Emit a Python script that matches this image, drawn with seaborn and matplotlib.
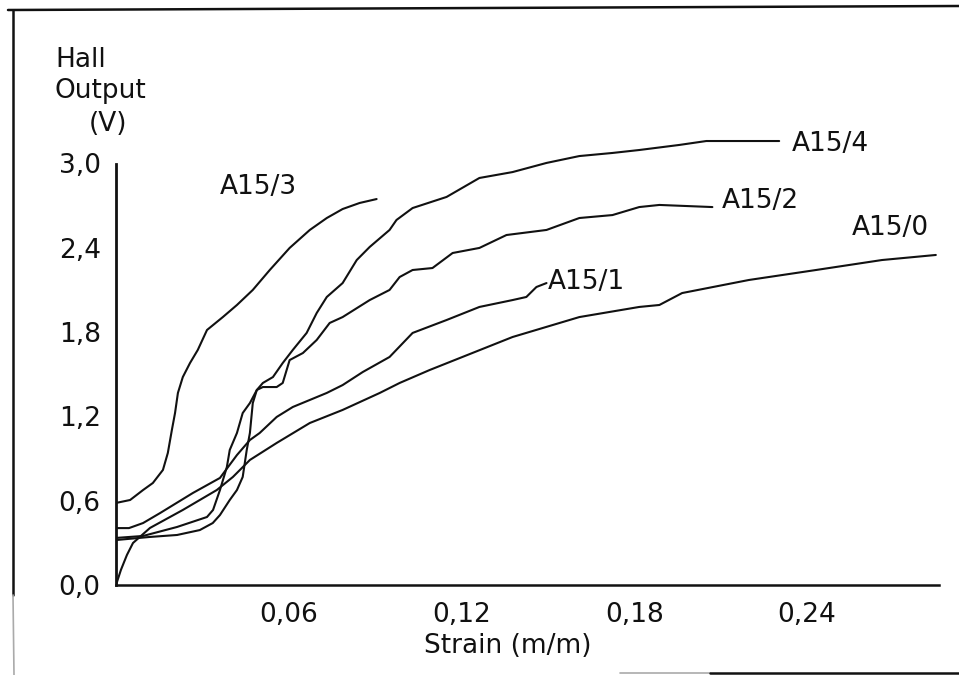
import matplotlib
matplotlib.use("Agg")
import matplotlib.pyplot as plt
from matplotlib.lines import Line2D
import seaborn as sns
import pandas as pd

# Hall sensor output versus strain for the A15 specimen series
a15_0_strain = [0.0, 0.0017, 0.0038, 0.0059, 0.0118, 0.0232, 0.0350, 0.0406, 0.0465, 0.0558,
                0.0673, 0.0787, 0.0916, 0.0985, 0.1089, 0.1203, 0.1377, 0.1609, 0.1817, 0.1887,
                0.1966, 0.2198, 0.2431, 0.2660, 0.2847]
a15_0_output = [0.0, 0.107, 0.214, 0.299, 0.406, 0.534, 0.676, 0.769, 0.890, 1.011,
                1.153, 1.246, 1.367, 1.438, 1.530, 1.623, 1.765, 1.907, 1.979, 1.993,
                2.078, 2.171, 2.242, 2.313, 2.349]

a15_1_strain = [0.0, 0.0045, 0.0094, 0.0153, 0.0267, 0.0361, 0.0420, 0.0465, 0.0499, 0.0558,
                0.0614, 0.0673, 0.0732, 0.0787, 0.0857, 0.0950, 0.1030, 0.1148, 0.1262, 0.1377,
                0.1425, 0.1460, 0.1495]
a15_1_output = [0.405, 0.405, 0.441, 0.512, 0.655, 0.762, 0.925, 1.032, 1.082, 1.196,
                1.267, 1.317, 1.367, 1.423, 1.516, 1.623, 1.794, 1.886, 1.979, 2.028,
                2.050, 2.121, 2.149]

a15_2_strain = [0.0, 0.0118, 0.0212, 0.0291, 0.0336, 0.0361, 0.0395, 0.0420, 0.0440, 0.0454,
                0.0465, 0.0475, 0.0489, 0.0510, 0.0558, 0.0579, 0.0603, 0.0649, 0.0697, 0.0742,
                0.0787, 0.0881, 0.0950, 0.0985, 0.1030, 0.1099, 0.1169, 0.1262, 0.1356, 0.1495,
                0.1609, 0.1724, 0.1817, 0.1887, 0.2071]
a15_2_output = [0.320, 0.342, 0.356, 0.391, 0.441, 0.498, 0.605, 0.676, 0.769, 0.961,
                1.082, 1.295, 1.388, 1.409, 1.409, 1.438, 1.601, 1.651, 1.744, 1.865,
                1.907, 2.028, 2.100, 2.192, 2.242, 2.256, 2.363, 2.399, 2.491, 2.527,
                2.612, 2.633, 2.690, 2.705, 2.690]

a15_3_strain = [0.0, 0.0049, 0.0094, 0.0128, 0.0163, 0.0180, 0.0194, 0.0205, 0.0215, 0.0232,
                0.0257, 0.0284, 0.0316, 0.0371, 0.0420, 0.0475, 0.0534, 0.0603, 0.0673, 0.0732,
                0.0787, 0.0846, 0.0905]
a15_3_output = [0.584, 0.605, 0.676, 0.726, 0.819, 0.940, 1.103, 1.224, 1.367, 1.480,
                1.580, 1.673, 1.815, 1.907, 1.993, 2.100, 2.242, 2.399, 2.527, 2.612,
                2.676, 2.719, 2.747]

a15_4_strain = [0.0, 0.0094, 0.0212, 0.0316, 0.0337, 0.0361, 0.0385, 0.0395, 0.0420, 0.0440,
                0.0465, 0.0489, 0.0510, 0.0545, 0.0579, 0.0614, 0.0662, 0.0697, 0.0732, 0.0787,
                0.0836, 0.0881, 0.0950, 0.0974, 0.1030, 0.1148, 0.1262, 0.1377, 0.1495, 0.1609,
                0.1724, 0.1817, 0.1956, 0.2050, 0.2303]
a15_4_output = [0.335, 0.349, 0.413, 0.484, 0.534, 0.676, 0.840, 0.961, 1.082, 1.224,
                1.295, 1.388, 1.438, 1.480, 1.580, 1.673, 1.794, 1.936, 2.050, 2.149,
                2.313, 2.406, 2.527, 2.598, 2.683, 2.762, 2.897, 2.939, 3.004, 3.053,
                3.075, 3.096, 3.132, 3.160, 3.160]

series_names = ["A15/0", "A15/1", "A15/2", "A15/3", "A15/4"]
series_strain = [a15_0_strain, a15_1_strain, a15_2_strain, a15_3_strain, a15_4_strain]
series_output = [a15_0_output, a15_1_output, a15_2_output, a15_3_output, a15_4_output]

# curve labels: text, anchor strain, anchor output, horizontal alignment
label_text = ["A15/3", "A15/4", "A15/2", "A15/0", "A15/1"]
label_x = [0.0496, 0.2346, 0.2103, 0.2690, 0.1500]
label_y = [2.83, 3.14, 2.73, 2.54, 2.16]
label_ha = ["center", "left", "left", "center", "left"]

y_ticks = [0.0, 0.6, 1.2, 1.8, 2.4, 3.0]
y_tick_labels = ["0,0", "0,6", "1,2", "1,8", "2,4", "3,0"]
x_ticks = [0.06, 0.12, 0.18, 0.24]
x_tick_labels = ["0,06", "0,12", "0,18", "0,24"]

frames = []
for name, xs, ys in zip(series_names, series_strain, series_output):
    frames.append(pd.DataFrame({"strain": xs, "output": ys, "sample": name}))
data = pd.concat(frames, ignore_index=True)

sns.set_style("white")
plt.rcParams["font.family"] = ["DejaVu Sans"]

fig = plt.figure(figsize=(9.59, 6.75), dpi=100)
ax = fig.add_axes([116 / 959, 90 / 675, (939 - 116) / 959, 449.6 / 675])

sns.lineplot(data=data, x="strain", y="output", hue="sample", units="sample",
             estimator=None, sort=False, palette=["#111111"] * 5, linewidth=1.5,
             legend=False, ax=ax)

ax.set_xlim(0, 0.2858)
ax.set_ylim(0, 3.2)
ax.set_xlabel("")
ax.set_ylabel("")

for side in ("top", "right"):
    ax.spines[side].set_visible(False)
ax.spines["left"].set_bounds(0, 3.0)
ax.spines["left"].set_linewidth(2.0)
ax.spines["bottom"].set_linewidth(1.8)
ax.spines["left"].set_color("#111111")
ax.spines["bottom"].set_color("#111111")

ax.set_yticks(y_ticks)
ax.set_yticklabels(y_tick_labels)
ax.set_xticks(x_ticks)
ax.set_xticklabels(x_tick_labels)
ax.tick_params(axis="both", direction="in", length=6, width=1.3, color="#111111",
               labelsize=19, labelcolor="#111111")
ax.tick_params(axis="y", pad=11)
ax.tick_params(axis="x", pad=12)

for t, x, y, ha in zip(label_text, label_x, label_y, label_ha):
    ax.text(x, y, t, fontsize=19, ha=ha, va="center", color="#111111", clip_on=False)

# axis titles
fig.text(508 / 959, 1 - 646 / 675, "Strain (m/m)", fontsize=19, ha="center", va="center",
         color="#111111")
fig.text(55 / 959, 1 - 60 / 675, "Hall", fontsize=19, ha="left", va="center", color="#111111")
fig.text(55 / 959, 1 - 91 / 675, "Output", fontsize=19, ha="left", va="center", color="#111111")
fig.text(89 / 959, 1 - 124 / 675, "(V)", fontsize=19, ha="left", va="center", color="#111111")

# outer frame around the figure
def frame_line(x0, y0, x1, y1, color="#111111", lw=1.8):
    fig.add_artist(Line2D([x0 / 959, x1 / 959], [1 - y0 / 675, 1 - y1 / 675],
                          transform=fig.transFigure, color=color, linewidth=lw))

frame_line(8, 10, 959, 6)
frame_line(13, 10, 13, 595)
frame_line(13, 595, 14, 675, color="#aaaaaa", lw=1.2)
frame_line(620, 673, 710, 673, color="#aaaaaa", lw=1.2)
frame_line(710, 673, 959, 673)

fig.savefig("out.png", dpi=100, facecolor="white")
